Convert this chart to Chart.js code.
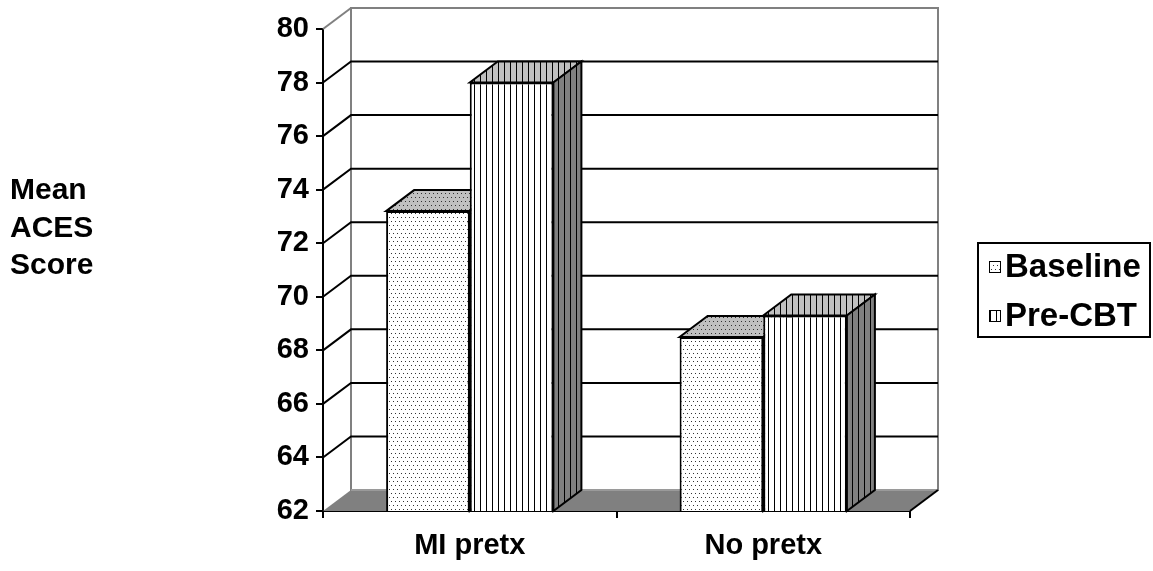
<!DOCTYPE html>
<html>
<head>
<meta charset="utf-8">
<script src="https://cdn.jsdelivr.net/npm/chart.js@4.4.1/dist/chart.umd.min.js"></script>
<style>
  html, body { margin: 0; padding: 0; background: #fff; }
  canvas { display: block; }
</style>
</head>
<body>
<canvas id="chart" width="1153" height="571"></canvas>
<script>
const categories = ["MI pretx", "No pretx"];
const seriesNames = ["Baseline", "Pre-CBT"];
const baseline = [73.2, 68.5];
const preCbt = [78.0, 69.3];
const yTicks = [62, 64, 66, 68, 70, 72, 74, 76, 78, 80];
const yTitle = ["Mean", "ACES", "Score"];

const FONT = "Arial, 'Liberation Sans', sans-serif";

// small canvas tiles used as fills
function tile(w, h, bg, draw) {
  const c = document.createElement("canvas");
  c.width = w;
  c.height = h;
  const g = c.getContext("2d");
  g.fillStyle = bg;
  g.fillRect(0, 0, w, h);
  draw(g);
  return document.createElement("canvas").getContext("2d").createPattern(c, "repeat");
}
const dots = (bg) => tile(8, 8, bg, (g) => {
  g.fillStyle = "#333";
  [[1, 1], [5, 1], [3, 5], [7, 5]].forEach(([x, y]) => g.fillRect(x, y, 1, 1));
});
const stripes = (bg) => tile(6, 6, bg, (g) => {
  g.fillStyle = "#000";
  g.fillRect(0, 0, 1, 6);
});

const fronts = [dots("#fff"), stripes("#fff")];
const tops = [dots("#c0c0c0"), stripes("#c0c0c0")];
const sides = [dots("#808080"), stripes("#808080")];

const DX = 28, DY = -21;

function poly(ctx, pts, fill, stroke, lw) {
  ctx.beginPath();
  pts.forEach(([x, y], i) => (i ? ctx.lineTo(x, y) : ctx.moveTo(x, y)));
  ctx.closePath();
  if (fill) { ctx.fillStyle = fill; ctx.fill(); }
  if (stroke) { ctx.strokeStyle = stroke; ctx.lineWidth = lw || 2; ctx.stroke(); }
}
function line(ctx, pts, color, lw) {
  ctx.beginPath();
  pts.forEach(([x, y], i) => (i ? ctx.lineTo(x, y) : ctx.moveTo(x, y)));
  ctx.strokeStyle = color;
  ctx.lineWidth = lw || 2;
  ctx.stroke();
}

const box3d = {
  id: "box3d",
  beforeDraw(chart) {
    const ctx = chart.ctx;
    ctx.save();
    ctx.fillStyle = "#fff";
    ctx.fillRect(0, 0, chart.width, chart.height);
    ctx.restore();
  },
  beforeDatasetsDraw(chart) {
    const { ctx, chartArea: a, scales: { y } } = chart;
    ctx.save();
    // floor
    poly(ctx, [[a.left, a.bottom], [a.left + DX, a.bottom + DY], [a.right + DX, a.bottom + DY], [a.right, a.bottom]], "#808080");
    // back wall + left wall edges
    ctx.strokeStyle = "#808080";
    ctx.lineWidth = 2;
    ctx.strokeRect(a.left + DX, a.top + DY, a.right - a.left, a.bottom - a.top);
    line(ctx, [[a.left + DX, a.bottom + DY], [a.right + DX, a.bottom + DY]], "#9a9a9a", 2);
    line(ctx, [[a.left, a.top], [a.left + DX, a.top + DY]], "#808080", 2);
    line(ctx, [[a.right, a.bottom], [a.right + DX, a.bottom + DY]], "#000", 2);
    // gridlines running on left wall and back wall
    yTicks.slice(1, -1).forEach((v) => {
      const yy = y.getPixelForValue(v);
      line(ctx, [[a.left, yy], [a.left + DX, yy + DY], [a.right + DX, yy + DY]], "#000", 2);
    });
    // top and side faces of each bar
    chart.data.datasets.forEach((ds, i) => {
      chart.getDatasetMeta(i).data.forEach((el) => {
        const p = el.getProps(["x", "y", "width", "base"], true);
        const top = p.y, base = Math.min(p.base, a.bottom);
        const l = p.x - p.width / 2, r = p.x + p.width / 2;
        poly(ctx, [[l, top], [l + DX, top + DY], [r + DX, top + DY], [r, top]], tops[i], "#000", 2);
        poly(ctx, [[r, top], [r + DX, top + DY], [r + DX, base + DY], [r, base]], sides[i], "#000", 2);
      });
    });
    ctx.restore();
  },
  afterDraw(chart) {
    const ctx = chart.ctx;
    ctx.save();
    ctx.fillStyle = "#000";
    ctx.font = "bold 30px " + FONT;
    ctx.textAlign = "left";
    ctx.textBaseline = "middle";
    yTitle.forEach((t, i) => ctx.fillText(t, 10, 191 + i * 37.5));
    // legend
    ctx.strokeStyle = "#000";
    ctx.lineWidth = 2;
    ctx.strokeRect(978, 243, 172, 94);
    ctx.font = "bold 33px " + FONT;
    chart.data.datasets.forEach((ds, i) => {
      const yy = 267 + i * 49;
      ctx.fillStyle = fronts[i];
      ctx.fillRect(989, yy - 6, 12, 12);
      ctx.lineWidth = 1;
      ctx.strokeRect(989.5, yy - 5.5, 11, 11);
      ctx.fillStyle = "#000";
      ctx.fillText(ds.label, 1005, yy + 1);
    });
    ctx.restore();
  },
};

new Chart(document.getElementById("chart"), {
  type: "bar",
  data: {
    labels: categories,
    datasets: [
      { label: seriesNames[0], data: baseline, backgroundColor: fronts[0] },
      { label: seriesNames[1], data: preCbt, backgroundColor: fronts[1] },
    ].map((d) => ({ ...d, borderColor: "#000", borderWidth: 2, borderSkipped: false })),
  },
  options: {
    responsive: false,
    animation: false,
    events: [],
    layout: { padding: { left: 0, right: 243, top: 29, bottom: 0 } },
    datasets: { bar: { categoryPercentage: 0.57, barPercentage: 1 } },
    plugins: { legend: { display: false }, tooltip: { enabled: false } },
    scales: {
      x: {
        afterFit: (s) => { s.height = 60; },
        grid: { drawOnChartArea: false, tickLength: 7, color: "#000", lineWidth: 2 },
        border: { color: "#000", width: 2 },
        ticks: { color: "#000", padding: 11, font: { family: FONT, size: 29, weight: "bold" } },
      },
      y: {
        min: 62,
        max: 80,
        afterFit: (s) => { s.width = 323; },
        afterBuildTicks: (s) => { s.ticks = yTicks.map((v) => ({ value: v })); },
        grid: { drawOnChartArea: false, tickLength: 7, color: "#000", lineWidth: 2 },
        border: { color: "#000", width: 2 },
        ticks: { color: "#000", padding: 7, font: { family: FONT, size: 29, weight: "bold" } },
      },
    },
  },
  plugins: [box3d],
});
</script>
</body>
</html>
